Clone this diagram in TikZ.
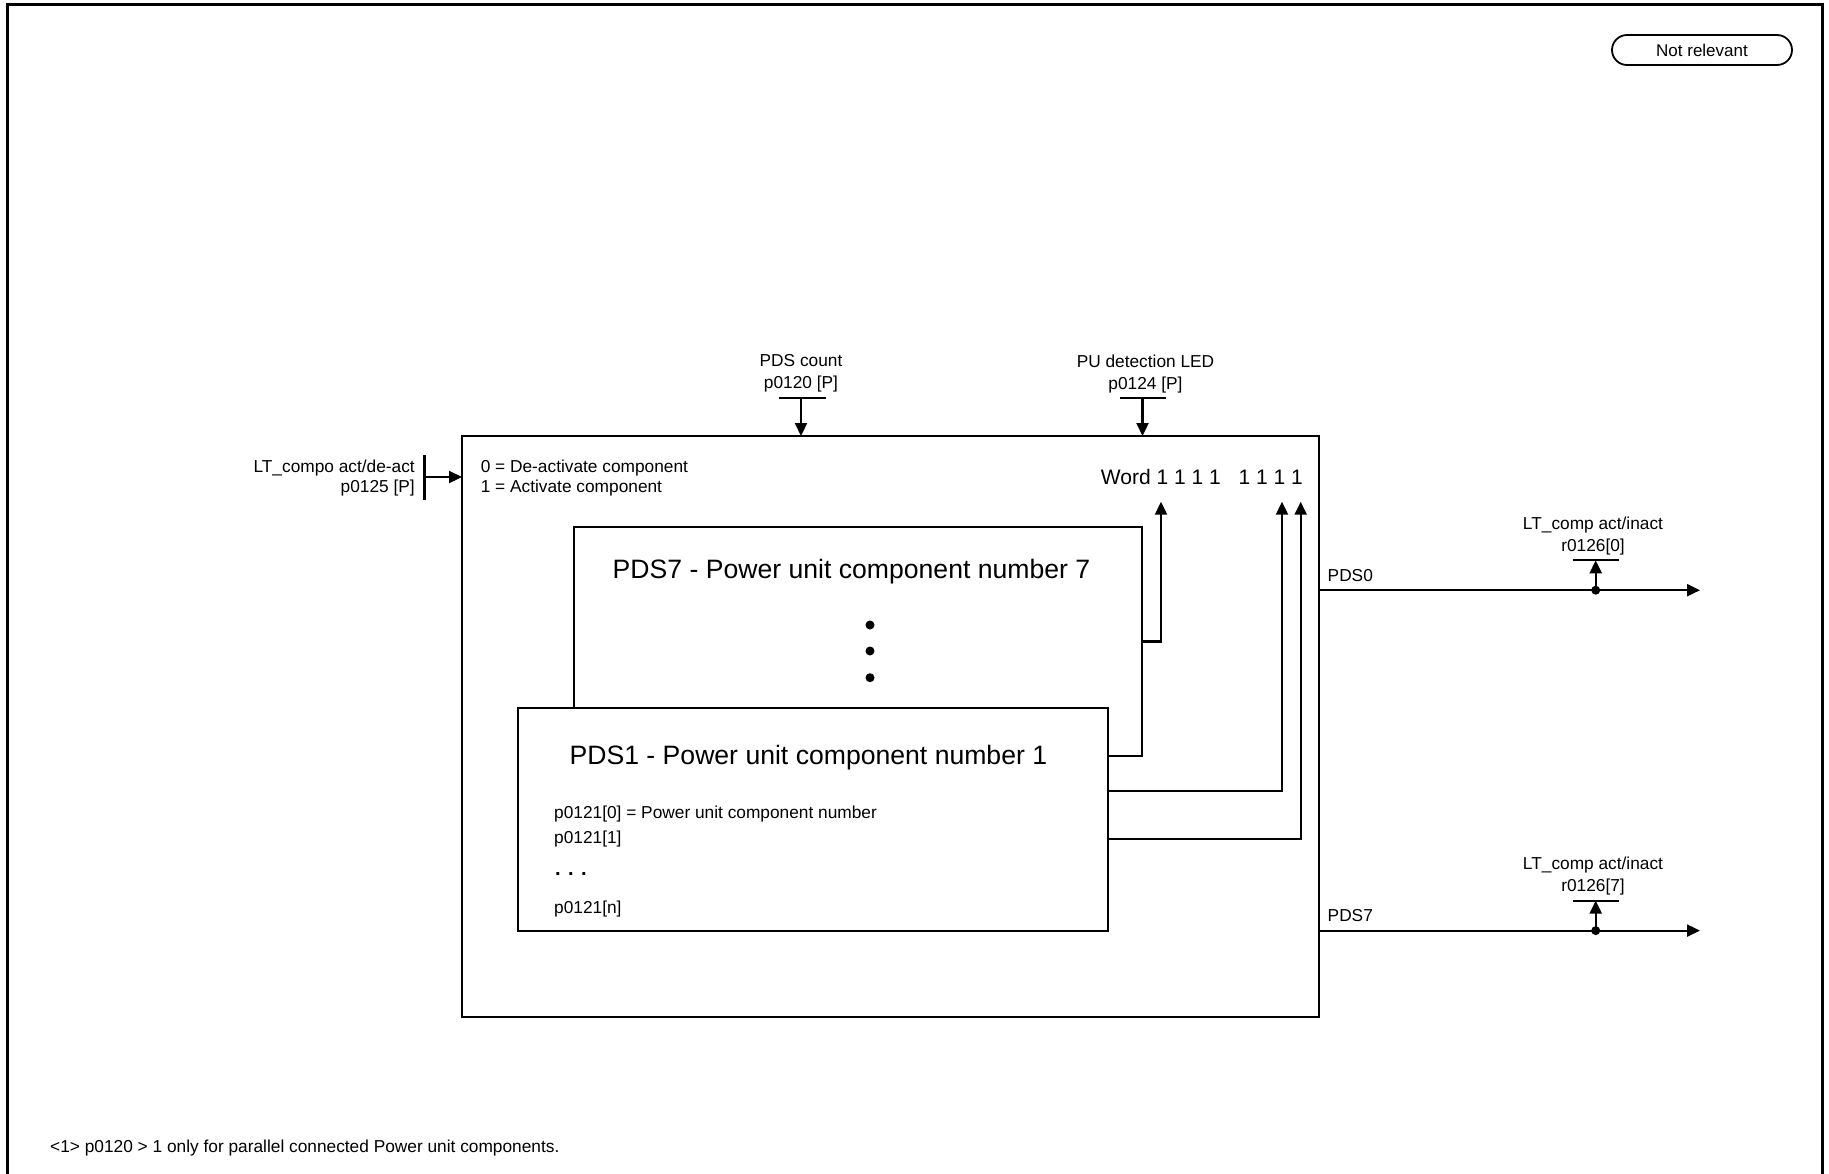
\documentclass[tikz,border=0pt]{standalone}
\usepackage{fontspec}
\setmainfont{Liberation Sans}
\usetikzlibrary{arrows.meta}
\begin{document}
\begin{tikzpicture}[x=1pt,y=-1pt,
  ln/.style={line width=2.2pt},
  arr/.style={ln,-{Triangle[length=13pt,width=12pt]}},
  txt/.style={inner sep=0pt,font=\fontsize{17.3}{22}\selectfont,anchor=base},
  big/.style={inner sep=0pt,font=\fontsize{26.6}{30}\selectfont,anchor=base},
  boxs/.style={draw,ln,fill=white,inner sep=0pt,outer sep=0pt,anchor=north west}]
\useasboundingbox (0,0) rectangle (1829,1173);
% outer frame
\draw[line width=3pt] (7,1185) -- (7,4) -- (1822,4) -- (1822,1185);
% not relevant
\node[draw,line width=1.8pt,rounded corners=15pt,minimum width=180pt,minimum height=30pt,inner sep=0pt,font=\fontsize{17}{20}\selectfont] (nr) at (1702,50) {Not relevant};
% main box
\node[boxs,minimum width=857pt,minimum height=581pt] (main) at (462,436) {};
\node[boxs,minimum width=568pt,minimum height=229pt] (pds7) at (574,527) {};
\node[big] (pds7t) at (851.5,578.8) {PDS7 - Power unit component number 7};
\foreach \yy in {625,651,677.7}{\fill (870,\yy) circle (4.5pt);}
\node[boxs,minimum width=590pt,minimum height=223pt] (pds1) at (518,708) {};
\node[big] (pds1t) at (808.4,764.2) {PDS1 - Power unit component number 1};
\node[txt,anchor=base west] (p0) at (554,818) {p0121[0] = Power unit component number};
\node[txt,anchor=base west] (p1) at (554,843.5) {p0121[1]};
\node[txt,anchor=base west,font=\fontsize{20}{24}\selectfont] (pd) at (555,875) {\textbf{. . .}};
\node[txt,anchor=base west] (pn) at (554,913.5) {p0121[n]};
% texts in main box
\node[txt,anchor=base west,align=left,font=\fontsize{17.3}{20}\selectfont] (states) at (480.6,492.7) {0 = De-activate component\\1 = Activate component};
\node[txt,anchor=base east,font=\fontsize{21}{24}\selectfont] (word) at (1303,484.4) {Word 1 1 1 1\hspace{12pt} 1 1 1 1};
\coordinate (w1) at (1161,501.7);
\coordinate (w2) at (1282,501.7);
\coordinate (w3) at (1300.7,501.7);
\draw[arr] (pds7.east) -| (w1);
\draw[ln] (pds1.north east |- pds7.south) -- (pds7.south east);
\draw[arr] ([yshift=-83pt]pds1.north east) -| (w2);
\draw[arr] ([yshift=-130.7pt]pds1.north east) -| (w3);
% inputs
\node[txt,align=center] (cnt) at (801,388.7) {PDS count\\p0120 [P]};
\coordinate (cntbar) at (801,397.8);
\draw[ln] (779,397.8) -- (826,397.8);
\draw[arr] (cntbar) -- (cntbar |- main.north);
\node[txt,align=center] (pud) at (1145.5,389) {PU detection LED\\p0124 [P]};
\coordinate (pudbar) at (1142.5,397.8);
\draw[ln] (1119.5,397.8) -- (1165.5,397.8);
\draw[arr] (pudbar) -- (pudbar |- main.north);
\node[txt,anchor=base east,align=right,font=\fontsize{17.3}{20}\selectfont] (lt) at (415,492.7) {LT\_compo act/de-act\\p0125 [P]};
\coordinate (ltbar) at (424.5,477);
\draw[ln] (424.5,455) -- (424.5,499.5);
\draw[arr] (ltbar) -- (ltbar -| main.west);
% outputs
\coordinate (o0) at (1700,590.2);
\coordinate (o7) at (1700,930.6);
\draw[arr] (main.east |- o0) -- (o0);
\draw[arr] (main.east |- o7) -- (o7);
\node[txt,anchor=base west] (l0) at (1327.5,581) {PDS0};
\node[txt,anchor=base west] (l7) at (1327.5,921.7) {PDS7};
\coordinate (t0) at (1595.7,590.2);
\coordinate (t7) at (1595.7,930.6);
\fill (t0) circle (4.5pt);
\fill (t7) circle (4.5pt);
\draw[ln] (1572.7,560.3) -- (1619,560.3);
\draw[ln] (1572.7,900.6) -- (1619,900.6);
\draw[arr] (t0) -- (1595.7,560.3);
\draw[arr] (t7) -- (1595.7,900.6);
\node[txt,align=center,font=\fontsize{17.3}{21.7}\selectfont] (r0) at (1593,551.2) {LT\_comp act/inact\\r0126[0]};
\node[txt,align=center,font=\fontsize{17.3}{21.7}\selectfont] (r7) at (1593,891.2) {LT\_comp act/inact\\r0126[7]};
% footnote
\node[txt,anchor=base west] (fn) at (50,1152.6) {<1> p0120 > 1 only for parallel connected Power unit components.};
\end{tikzpicture}
\end{document}
